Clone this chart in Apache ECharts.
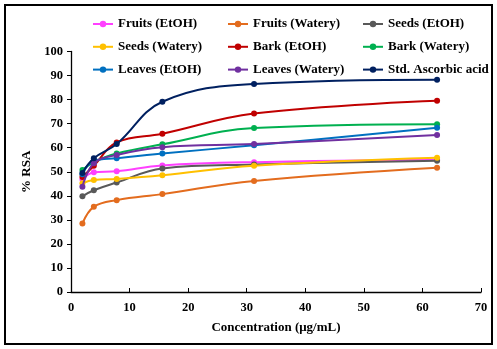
<!DOCTYPE html>
<html><head><meta charset="utf-8">
<script src="https://cdn.jsdelivr.net/npm/echarts@6/dist/echarts.min.js"></script>
<style>html,body{margin:0;padding:0;background:#fff}#c{width:497px;height:349px}</style>
</head><body><div id="c"></div>
<script>
var concentrations = [1.95, 3.9, 7.8, 15.6, 31.25, 62.5];
var seriesNames = ['Fruits (EtOH)', 'Fruits (Watery)', 'Seeds (EtOH)', 'Seeds (Watery)', 'Bark (EtOH)', 'Bark (Watery)', 'Leaves (EtOH)', 'Leaves (Watery)', 'Std. Ascorbic acid'];
var fruitsEtOH = [46.8, 49.8, 50.2, 52.6, 54.0, 55.0];
var fruitsWatery = [28.5, 35.4, 38.2, 40.7, 46.2, 51.7];
var seedsEtOH = [39.8, 42.3, 45.5, 51.4, 53.0, 54.6];
var seedsWatery = [45.2, 46.6, 47.0, 48.5, 52.5, 55.8];
var barkEtOH = [47.8, 52.5, 62.2, 65.8, 74.2, 79.5];
var barkWatery = [50.7, 54.0, 57.6, 61.4, 68.2, 69.8];
var leavesEtOH = [49.0, 54.5, 55.6, 57.6, 61.0, 68.3];
var leavesWatery = [43.8, 53.5, 57.0, 60.2, 61.5, 65.3];
var stdAscorbic = [49.5, 55.6, 61.5, 79.1, 86.5, 88.3];
var allValues = [fruitsEtOH, fruitsWatery, seedsEtOH, seedsWatery, barkEtOH, barkWatery, leavesEtOH, leavesWatery, stdAscorbic];
var colors = ['#FF40FF', '#E36C1E', '#595959', '#FFC000', '#C00000', '#00B050', '#0070C0', '#7030A0', '#002060'];
var xTicks = [0, 10, 20, 30, 40, 50, 60, 70];
var yTicks = [0, 10, 20, 30, 40, 50, 60, 70, 80, 90, 100];

var font = '"Liberation Serif", "Times New Roman", serif';
var series = seriesNames.map(function (n, i) {
  return {
    name: n, type: 'line', smooth: 0.4,
    data: concentrations.map(function (x, j) { return [x, allValues[i][j]]; }),
    symbol: 'circle', symbolSize: 6,
    lineStyle: { width: 2, color: colors[i] },
    itemStyle: { color: colors[i] },
    z: 2 + i
  };
});
var legends = seriesNames.map(function (n, i) {
  var col = i % 3, row = Math.floor(i / 3);
  return {
    data: [n], left: 92 + col * 135, top: 17.5 + row * 22.8, padding: 0,
    itemWidth: 20, itemHeight: 8, itemGap: 4,
    textStyle: { fontFamily: font, fontWeight: 'bold', fontSize: 13, color: '#000' }
  };
});
var chart = echarts.init(document.getElementById('c'), null, { renderer: 'canvas' });
chart.setOption({
  animation: false,
  backgroundColor: '#fff',
  color: colors,
  legend: legends,
  grid: { left: 71, right: 16, top: 51.5, bottom: 57 },
  graphic: [{ type: 'rect', shape: { x: 5, y: 5, width: 487, height: 339 }, style: { fill: 'none', stroke: '#000', lineWidth: 2 } }],
  xAxis: {
    type: 'value', min: xTicks[0], max: xTicks[xTicks.length - 1], interval: 10,
    name: 'Concentration (μg/mL)', nameLocation: 'middle', nameGap: 29,
    nameTextStyle: { fontFamily: font, fontWeight: 'bold', fontSize: 13, color: '#000' },
    axisLine: { lineStyle: { color: '#000', width: 1.3 } },
    axisTick: { inside: true, length: 4, lineStyle: { color: '#000' } },
    axisLabel: { fontFamily: font, fontWeight: 'bold', fontSize: 12.5, color: '#000', margin: 9 },
    splitLine: { show: false }
  },
  yAxis: {
    type: 'value', min: yTicks[0], max: yTicks[yTicks.length - 1], interval: 10,
    name: '% RSA', nameLocation: 'middle', nameGap: 33, nameRotate: 90,
    nameTextStyle: { fontFamily: font, fontWeight: 'bold', fontSize: 13, color: '#000' },
    axisLine: { show: true, lineStyle: { color: '#000', width: 1.3 } },
    axisTick: { show: true, inside: false, length: 4, lineStyle: { color: '#000' } },
    axisLabel: { fontFamily: font, fontWeight: 'bold', fontSize: 12.5, color: '#000', margin: 8 },
    splitLine: { show: false }
  },
  series: series
});
</script></body></html>
